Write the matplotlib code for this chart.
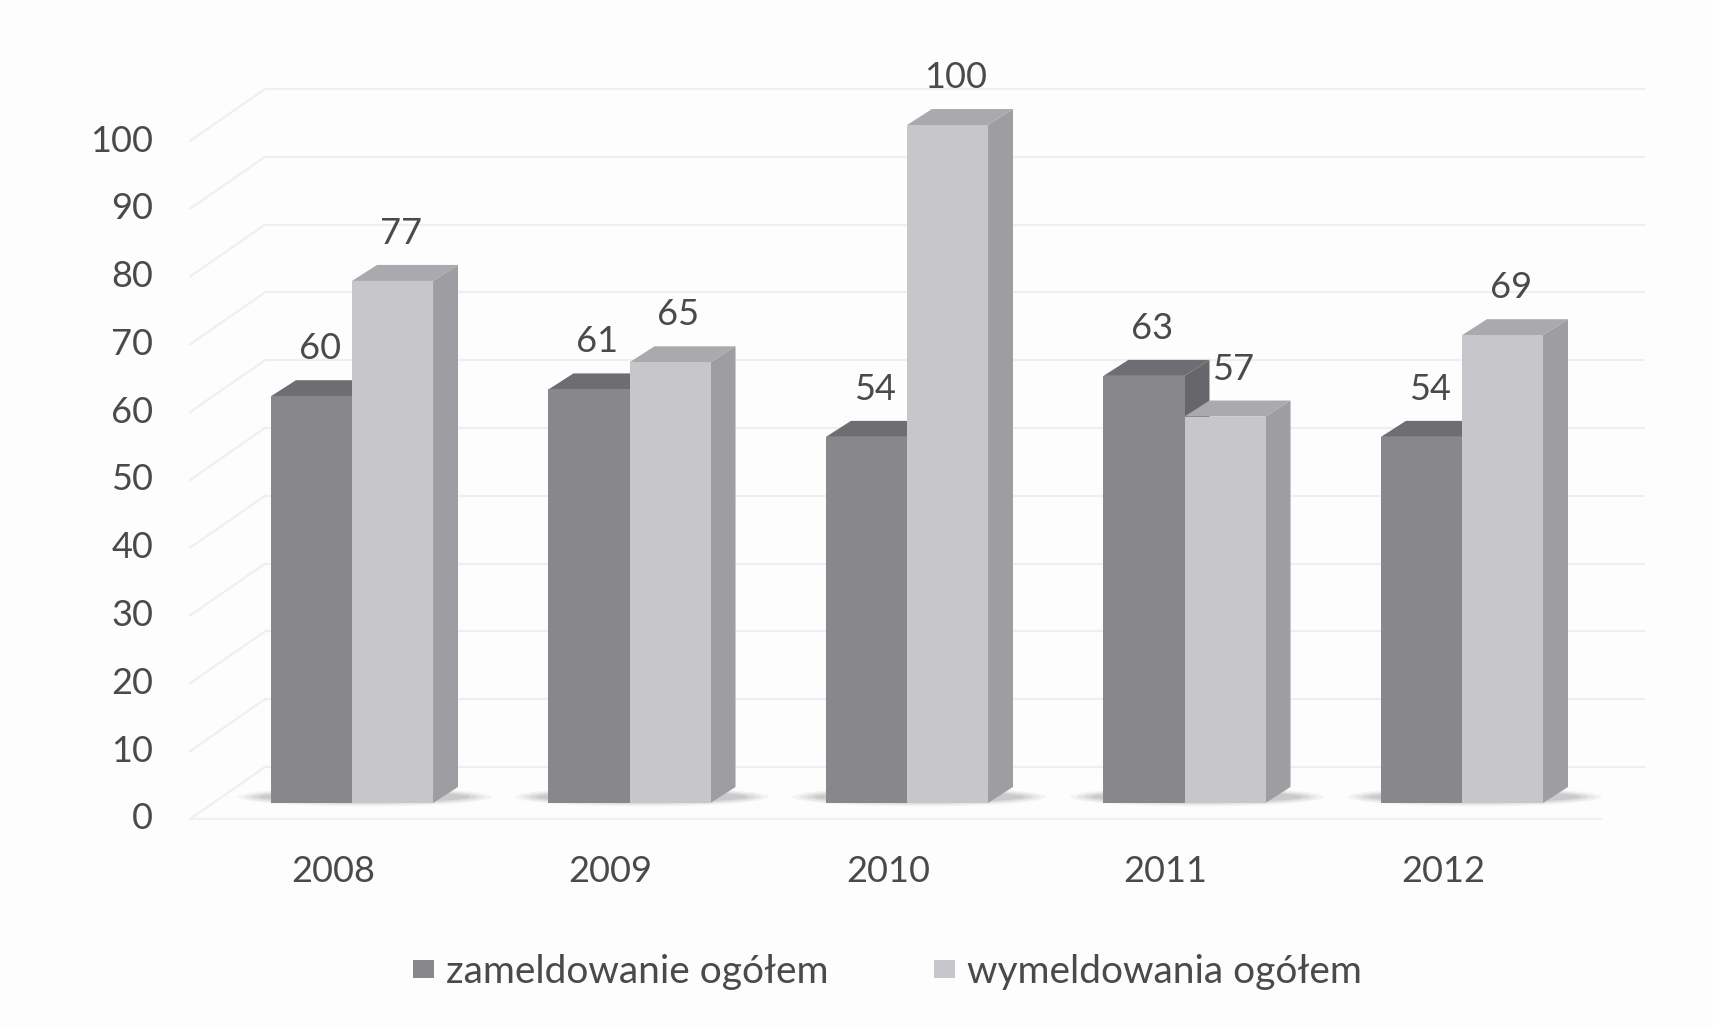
import matplotlib.pyplot as plt
from matplotlib.patches import Polygon, Patch, Ellipse

# dane z wykresu
years = ['2008', '2009', '2010', '2011', '2012']
zameldowania = [60, 61, 54, 63, 54]
wymeldowania = [77, 65, 100, 57, 69]
y_ticks = [0, 10, 20, 30, 40, 50, 60, 70, 80, 90, 100]
series_names = ['zameldowanie ogółem', 'wymeldowania ogółem']

plt.rcParams['font.family'] = ['Lato', 'DejaVu Sans']

# kolory (skan w odcieniach szarości)
dark_front, dark_top, dark_side = '#87878c', '#6d6d72', '#66666b'
light_front, light_top, light_side = '#c6c6cb', '#aaaaae', '#9d9da2'
text_color = '#4a4a4a'
grid_color = '#efeff1'

# geometria "3D"
w = 0.292            # szerokosc slupka
dx, dy = 0.09, 2.36  # glebokosc slupka
wall_dy = 7.67       # przesuniecie tylnej sciany
wall_left, wall_right = -0.3135, 4.656
front_left = -0.584

fig = plt.figure(figsize=(17.13, 10.28), dpi=100)
fig.patch.set_facecolor('#fdfdfd')
ax = fig.add_axes([0, 0, 1, 1])
ax.set_xlim(-1.2685, 4.9045)
ax.set_ylim(-33.19, 118.44)
ax.axis('off')

# siatka: sciana boczna + tylna
for t in y_ticks:
    y_back = t - dy + wall_dy
    ax.plot([front_left, wall_left], [t - dy, y_back], color=grid_color, lw=1.5, zorder=1)
    ax.plot([wall_left, wall_right], [y_back, y_back], color=grid_color, lw=1.5, zorder=1)
    ax.text(-0.717, t - dy, str(t), ha='right', va='center', fontsize=26,
            color=text_color)

# krawedz podlogi
ax.plot([front_left, 4.50], [-dy, -dy], color='#f1f1f3', lw=1.5, zorder=1)


def shadow(x0, x1):
    cx = (x0 + x1 + dx) / 2
    width = x1 + dx - x0
    for k, a in enumerate([0.06, 0.08, 0.10, 0.12]):
        ax.add_patch(Ellipse((cx, 0.9), width + 0.24 - 0.05 * k, 2.8 - 0.4 * k,
                             facecolor='#606065', alpha=a, edgecolor='none',
                             zorder=2))


def bar3d(x0, v, front, top, side):
    x1 = x0 + w
    ax.add_patch(Polygon([(x1, 0), (x1 + dx, dy), (x1 + dx, v + dy), (x1, v)],
                         closed=True, facecolor=side, edgecolor='none', zorder=3))
    ax.add_patch(Polygon([(x0, v), (x1, v), (x1 + dx, v + dy), (x0 + dx, v + dy)],
                         closed=True, facecolor=top, edgecolor='none', zorder=3))
    ax.add_patch(Polygon([(x0, 0), (x1, 0), (x1, v), (x0, v)],
                         closed=True, facecolor=front, edgecolor='none', zorder=3))
    ax.text(x0 + w / 2 + dx / 3, v + 7.0, str(v), ha='center', va='center',
            fontsize=26, color=text_color, zorder=4)


for i, year in enumerate(years):
    shadow(i - w, i + w)
    bar3d(i - w, zameldowania[i], dark_front, dark_top, dark_side)
    bar3d(i, wymeldowania[i], light_front, light_top, light_side)
    ax.text(i - 0.068, -10.18, year, ha='center', va='center', fontsize=26,
            color=text_color)

handles = [Patch(facecolor=dark_front, edgecolor='none'),
           Patch(facecolor=light_front, edgecolor='none')]
fig.legend(handles, series_names, loc='center', bbox_to_anchor=(0.518, 0.0545),
           ncol=2, frameon=False, fontsize=28, labelcolor=text_color,
           handlelength=0.55, handleheight=0.35, handletextpad=0.3,
           columnspacing=2.7)

fig.savefig('out.png', dpi=100, facecolor=fig.get_facecolor())
